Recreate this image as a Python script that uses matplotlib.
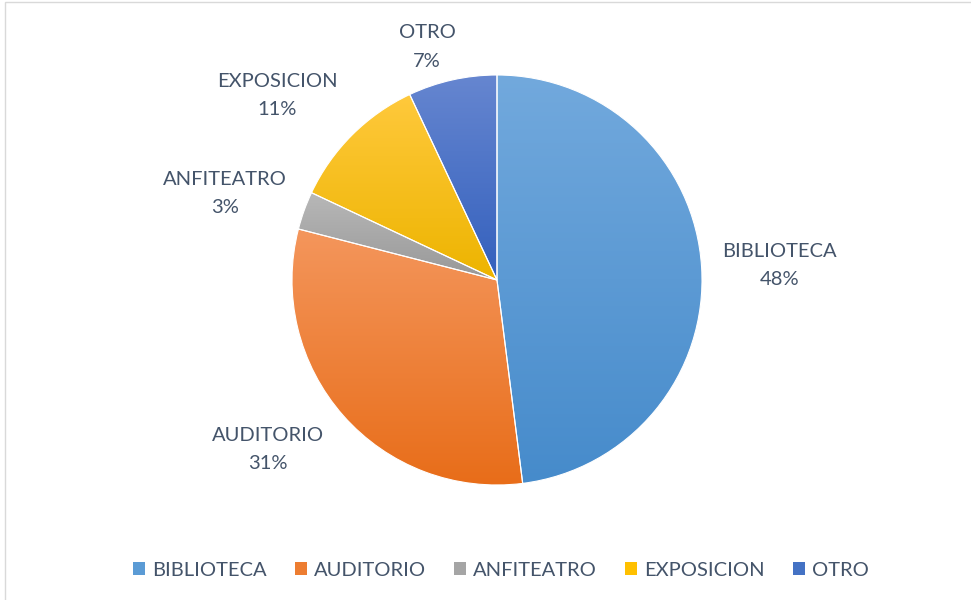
import matplotlib.pyplot as plt
import numpy as np
from matplotlib.colors import LinearSegmentedColormap
from matplotlib.patches import Rectangle, Patch

# data
categories = ['BIBLIOTECA', 'AUDITORIO', 'ANFITEATRO', 'EXPOSICION', 'OTRO']
values = [48, 31, 3, 11, 7]

# gradient colours (top / bottom of each slice)
top_colors = ['#72A9DD', '#F4965C', '#B8B8B8', '#FFC93C', '#6686D0']
bottom_colors = ['#468BCB', '#E86D19', '#989898', '#EDB400', '#3360BD']
legend_colors = ['#5B9BD5', '#ED7D31', '#A5A5A5', '#FFC000', '#4472C4']

# label placement per slice (excel "best fit"): distance / angle nudge
label_dist = [1.378, 1.39, 1.393, 1.40, 1.187]
label_nudge = [-0.6, -4.8, 2.1, 4.9, 4.1]

text_color = '#44546A'
plt.rcParams['font.family'] = ['Lato', 'DejaVu Sans']

fig = plt.figure(figsize=(9.71, 6.0), dpi=100)
ax = fig.add_axes([0, 0, 1, 1])

cx, cy, r = 497, 320, 205
wedges, _ = ax.pie(values, center=(cx, cy), radius=r, startangle=90,
                   counterclock=False, colors=legend_colors,
                   wedgeprops=dict(edgecolor='white', linewidth=0.8))

# vertical gradient inside every slice
grad = np.linspace(0, 1, 256).reshape(-1, 1)
for w, c_top, c_bot in zip(wedges, top_colors, bottom_colors):
    x0, y0, x1, y1 = w.get_path().get_extents().extents
    cmap = LinearSegmentedColormap.from_list('g', [c_bot, c_top])
    im = ax.imshow(grad, cmap=cmap, extent=(x0, x1, y0, y1), origin='lower',
                   aspect='auto', zorder=0.5, interpolation='bilinear')
    im.set_clip_path(w)
    w.set_facecolor('none')

# data labels
for w, name, v, d, nd in zip(wedges, categories, values, label_dist, label_nudge):
    th = np.deg2rad((w.theta1 + w.theta2) / 2 + nd)
    x = cx + r * d * np.cos(th)
    y = cy + r * d * np.sin(th)
    ax.text(x, y, f'{name}\n{v}%', ha='center', va='center', fontsize=14.5,
            color=text_color, linespacing=1.8)

ax.set_xlim(0, 971)
ax.set_ylim(0, 600)
ax.set_aspect('equal')
ax.axis('off')

# chart area border
ax.add_patch(Rectangle((4.5, -10), 1000, 598.5 + 10, fill=False,
                       edgecolor='#D9D9D9', linewidth=1, clip_on=False))

handles = [Patch(facecolor=c, edgecolor='none') for c in legend_colors]
fig.legend(handles, categories, loc='center', bbox_to_anchor=(0.516, 0.05),
           ncol=5, frameon=False, fontsize=14.5, labelcolor=text_color,
           handlelength=0.6, handleheight=0.6, handletextpad=0.35,
           columnspacing=1.4)

fig.savefig('out.png', dpi=100)
